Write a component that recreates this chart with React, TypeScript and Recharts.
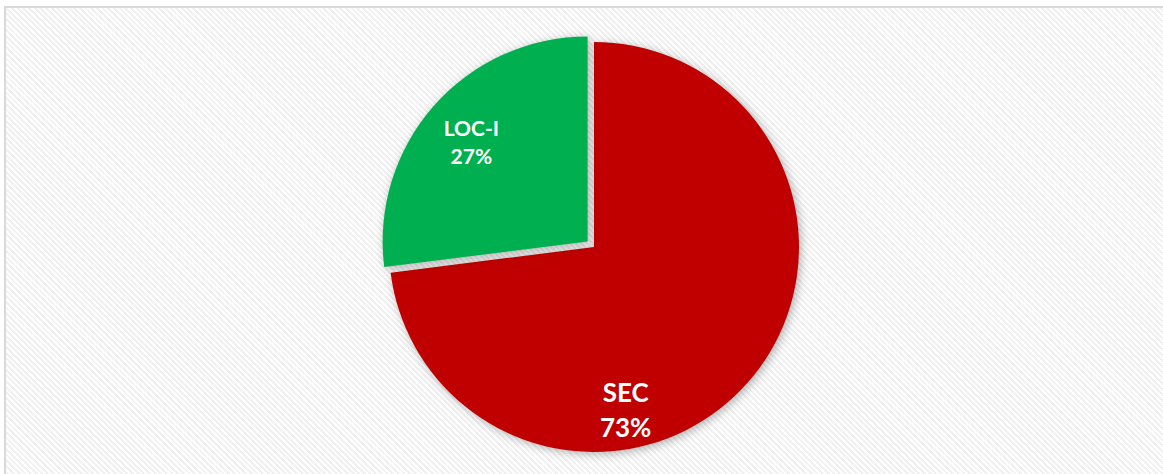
import React from 'react';
import { PieChart, Pie, Cell } from 'recharts';

// share of occurrences by category
const categories = ['SEC', 'LOC-I'];
const shares = [73, 27];
const colors = ['#C00000', '#00B050'];

const data = categories.map((name, i) => ({ name, value: shares[i] }));

const CX = 594;
const CY = 247;
const RADIUS = 205;
const EXPLODE = 8.5;
const RAD = Math.PI / 180;

// LOC-I is pulled out of the pie along its mid angle
const total = shares.reduce((a, b) => a + b, 0);
const locMid = 90 - (360 * (shares[0] + shares[1] / 2)) / total;
const offX = EXPLODE * Math.cos(locMid * RAD);
const offY = -EXPLODE * Math.sin(locMid * RAD);

const renderLabel = (visibleIndex: number) => (props: any) => {
  const { cx, cy, midAngle, outerRadius, index, name, percent } = props;
  if (index !== visibleIndex) return null;
  const isSec = index === 0;
  const angle = isSec ? -79 : midAngle + 1;
  const r = isSec ? outerRadius * 0.81 : outerRadius * 0.745;
  const x = cx + r * Math.cos(angle * RAD);
  const y = cy - r * Math.sin(angle * RAD);
  const size = isSec ? 26 : 21;
  const gap = isSec ? 35 : 28;
  return (
    <text
      x={x}
      y={y - gap / 2 + size * 0.36}
      textAnchor="middle"
      fill="#ffffff"
      fontFamily="Lato, 'Open Sans', sans-serif"
      fontWeight={700}
      fontSize={size}
    >
      <tspan x={x}>{name}</tspan>
      <tspan x={x} dy={gap}>{`${Math.round(percent * 100)}%`}</tspan>
    </text>
  );
};

const App: React.FC = () => {
  return (
    <div style={{ position: 'fixed', left: 0, top: 0, width: 1163, height: 474, overflow: 'hidden', background: '#fff' }}>
      <style>{`.recharts-sector { filter: drop-shadow(2px 2px 5px rgba(0,0,0,0.3)); }`}</style>
      <div
        style={{
          position: 'absolute',
          left: 4,
          top: 6,
          width: 1200,
          height: 500,
          boxSizing: 'border-box',
          border: '2px solid #d9d9d9',
          background: 'repeating-linear-gradient(45deg, #ffffff 0px, #ffffff 2px, #f0f0f0 2px, #f0f0f0 4px)',
        }}
      />
      <div style={{ position: 'absolute', left: 0, top: 0 }}>
        <PieChart width={1163} height={474} margin={{ top: 0, right: 0, bottom: 0, left: 0 }}>
          <Pie
            data={data}
            dataKey="value"
            nameKey="name"
            cx={CX}
            cy={CY}
            outerRadius={RADIUS}
            startAngle={90}
            endAngle={-270}
            stroke="none"
            labelLine={false}
            label={renderLabel(0)}
            isAnimationActive={false}
          >
            {data.map((entry, index) => (
              <Cell key={`sec-${index}`} fill={index === 0 ? colors[0] : 'transparent'} />
            ))}
          </Pie>
          <Pie
            data={data}
            dataKey="value"
            nameKey="name"
            cx={CX + offX}
            cy={CY + offY}
            outerRadius={RADIUS}
            startAngle={90}
            endAngle={-270}
            stroke="none"
            labelLine={false}
            label={renderLabel(1)}
            isAnimationActive={false}
          >
            {data.map((entry, index) => (
              <Cell key={`loc-${index}`} fill={index === 1 ? colors[1] : 'transparent'} />
            ))}
          </Pie>
        </PieChart>
      </div>
    </div>
  );
};

export default App;
